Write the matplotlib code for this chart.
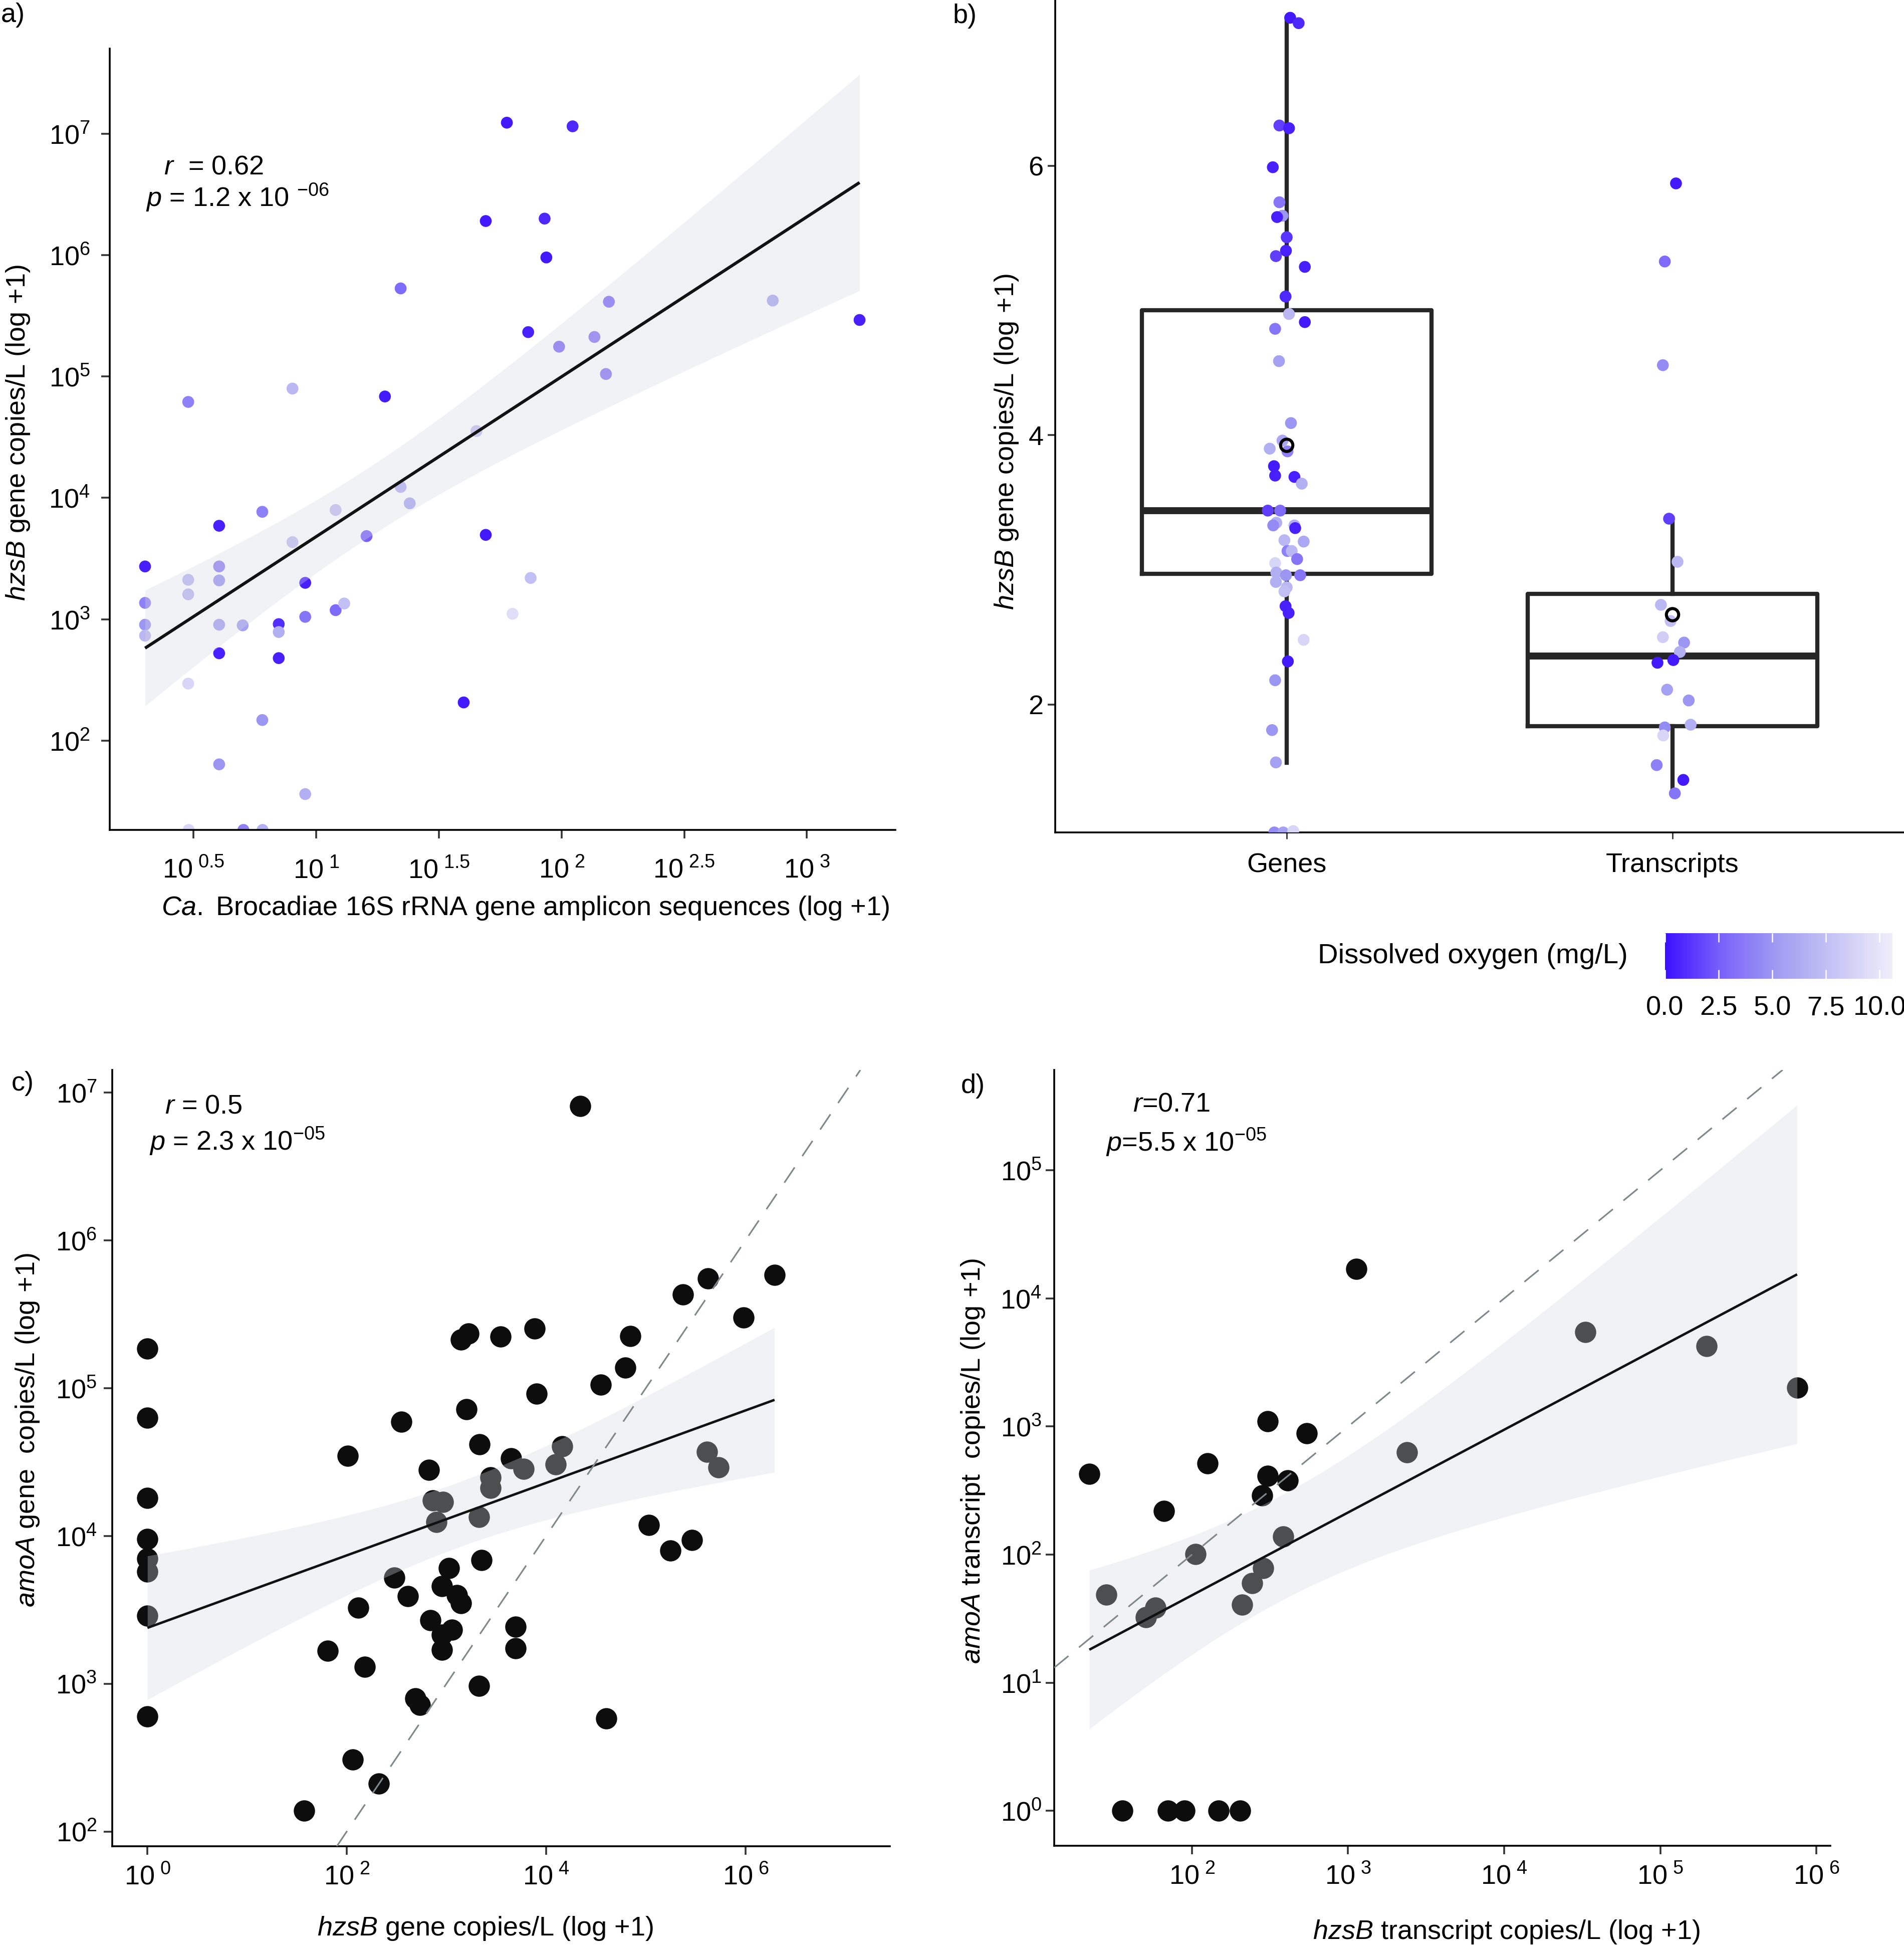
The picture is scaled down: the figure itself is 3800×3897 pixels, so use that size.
import numpy as np
import matplotlib
matplotlib.use('Agg')
import matplotlib.pyplot as plt
from matplotlib.colors import LinearSegmentedColormap, Normalize
from matplotlib.cm import ScalarMappable
from matplotlib.ticker import NullLocator

plt.rcParams['font.family'] = ['Liberation Sans', 'DejaVu Sans']
plt.rcParams['mathtext.fontset'] = 'custom'
plt.rcParams['mathtext.rm'] = 'Liberation Sans'
plt.rcParams['mathtext.it'] = 'Liberation Sans:italic'
plt.rcParams['mathtext.bf'] = 'Liberation Sans:bold'
plt.rcParams['mathtext.sf'] = 'Liberation Sans'

# ------------------------------------------------------------------ data
# Panel a: log10(Ca. Brocadiae amplicon seqs + 1), log10(hzsB gene copies/L + 1), dissolved oxygen (mg/L)
a_log_brocadiae = [0.302, 0.302, 0.302, 0.302, 0.478, 0.478, 0.478, 0.478,
                   0.604, 0.604, 0.604, 0.604, 0.604, 0.604, 0.700,
                   0.780, 0.780, 0.847, 0.847, 0.847, 0.903,
                   0.903, 0.955, 0.955, 0.955, 1.079, 1.079, 1.114, 1.205,
                   1.280, 1.344, 1.344, 1.381, 1.601, 1.653, 1.691, 1.691,
                   1.777, 1.800, 1.864, 1.874, 1.931, 1.938, 1.990, 2.045,
                   2.134, 2.181, 2.193, 2.861, 3.215]
a_log_hzsB = [3.435, 3.135, 2.955, 2.865, 4.790, 3.325, 3.205, 2.470,
              3.770, 3.435, 3.320, 2.955, 2.720, 1.805, 2.950,
              3.885, 2.170, 2.960, 2.895, 2.680, 4.900,
              3.635, 3.300, 3.020, 1.560, 3.900, 3.075, 3.130, 3.685,
              4.835, 5.725, 4.090, 3.955, 2.315, 4.550, 6.280, 3.695,
              7.090, 3.045, 5.365, 3.340, 6.300, 5.980, 5.245, 7.060,
              5.325, 5.020, 5.615, 5.625, 5.465]
a_oxygen = [0.5, 4.0, 5.0, 7.0, 4.0, 7.0, 7.0, 9.0,
            0.5, 4.0, 5.0, 5.5, 0.5, 5.0, 5.5,
            4.0, 5.0, 1.0, 6.5, 0.5, 7.0,
            7.5, 0.5, 3.5, 6.5, 7.5, 3.0, 7.5, 2.5,
            0.3, 3.0, 6.5, 6.0, 0.3, 7.5, 0.3, 0.3,
            0.3, 9.5, 0.5, 7.5, 0.8, 0.3, 3.0, 0.8,
            3.5, 3.5, 3.0, 6.0, 0.5]
# samples sitting on the lower edge of panel a (shown, not part of the fit)
a_floor_log_brocadiae = [0.480, 0.703, 0.781]
a_floor_log_hzsB = [1.265, 1.265, 1.265]
a_floor_oxygen = [9.0, 4.0, 6.5]

# Panel b: log10(hzsB copies/L + 1) for genes and transcripts, jitter offsets, dissolved oxygen
b_categories = ['Genes', 'Transcripts']
b_genes = [7.10, 7.06, 6.30, 6.28, 5.99, 5.73, 5.63, 5.62, 5.47, 5.37, 5.33, 5.25,
           5.03, 4.90, 4.84, 4.79, 4.55, 4.09, 3.96, 3.90, 3.88, 3.77, 3.70, 3.69,
           3.64, 3.44, 3.44, 3.35, 3.33, 3.33, 3.31, 3.22, 3.21, 3.14, 3.14, 3.08,
           3.05, 2.98, 2.96, 2.96, 2.91, 2.87, 2.84, 2.73, 2.68, 2.48, 2.32, 2.18,
           1.81, 1.57, 1.05, 1.05, 1.06]
b_genes_jitter = [0.009, 0.031, -0.019, 0.006, -0.036, -0.019, -0.011, -0.025, 0.000, -0.002,
                  -0.028, 0.047, -0.003, 0.006, 0.047, -0.030, -0.020, 0.011, -0.011, -0.044,
                  0.002, -0.033, -0.030, 0.020, 0.039, -0.049, -0.017, -0.027, -0.035, 0.020,
                  0.022, -0.006, 0.044, 0.002, 0.013, 0.027, -0.030, -0.027, -0.002, 0.035,
                  -0.028, 0.000, -0.006, -0.003, 0.005, 0.044, 0.003, -0.030, -0.038, -0.028,
                  -0.032, -0.009, 0.017]
b_genes_oxygen = [0.3, 0.8, 1.5, 0.5, 0.5, 3.5, 5.0, 0.5, 1.2, 0.5, 1.5, 0.5,
                  0.8, 7.0, 0.3, 3.5, 5.5, 5.0, 6.0, 6.5, 4.0, 0.3, 0.5, 0.5,
                  6.5, 1.5, 3.0, 6.5, 4.5, 6.5, 0.5, 7.0, 6.0, 4.0, 7.0, 3.5,
                  9.0, 6.5, 5.0, 3.5, 6.5, 7.0, 7.5, 0.5, 0.5, 9.0, 0.3, 5.0,
                  5.0, 5.5, 4.5, 5.5, 9.0]
b_transcripts = [5.87, 5.29, 4.52, 3.38, 3.06, 2.74, 2.62, 2.50, 2.46, 2.39,
                 2.31, 2.33, 2.11, 2.03, 1.83, 1.85, 1.77, 1.55, 1.44, 1.34]
b_transcripts_jitter = [0.009, -0.020, -0.025, -0.009, 0.013, -0.030, -0.005, -0.025, 0.030, 0.019,
                        -0.039, 0.002, -0.014, 0.042, -0.020, 0.047, -0.024, -0.041, 0.028, 0.006]
b_transcripts_oxygen = [0.3, 3.0, 4.5, 1.5, 7.0, 7.0, 7.5, 8.5, 5.0, 6.5,
                        0.3, 0.3, 5.5, 5.0, 4.5, 6.5, 9.0, 4.0, 0.3, 3.5]
# box statistics (Genes, Transcripts)
box_whislo = [1.566, 1.336]
box_q1 = [2.969, 1.840]
box_med = [3.438, 2.360]
box_q3 = [4.930, 2.820]
box_whishi = [7.096, 3.384]
box_mean = [3.925, 2.667]

# Panel c: log10(hzsB gene copies/L + 1), log10(amoA gene copies/L + 1)
c_log_hzsB = [0, 0, 0, 0, 0, 0, 0, 0,
              1.571, 1.809, 2.010, 2.113, 2.180, 2.058, 2.320, 2.479, 2.546, 2.613,
              2.686, 2.734, 2.826, 2.838, 2.862, 2.966, 2.899, 2.954, 2.954, 2.954,
              3.027, 3.057, 3.106, 3.143, 3.143, 3.222, 3.203, 3.331, 3.325, 3.350,
              3.325, 3.441, 3.441, 3.544, 3.648, 3.691, 3.691, 3.776, 3.886, 3.904,
              4.093, 4.160, 4.342, 4.549, 4.604, 4.793, 4.842, 5.030, 5.244, 5.372,
              5.463, 5.621, 5.615, 5.731, 5.981, 6.291]
c_log_amoA = [5.267, 4.800, 4.256, 3.977, 3.845, 3.757, 3.458, 2.779,
              2.140, 3.222, 4.540, 3.514, 3.114, 2.487, 2.323, 3.717, 4.772, 3.593,
              2.899, 2.855, 4.448, 3.430, 4.240, 4.228, 4.093, 3.661, 3.330, 3.230,
              3.781, 3.366, 3.597, 3.545, 5.327, 5.367, 4.855, 4.620, 4.129, 3.837,
              2.986, 4.396, 4.324, 5.347, 4.524, 3.386, 3.238, 4.452, 5.403, 4.963,
              4.484, 4.604, 6.908, 5.023, 2.763, 5.139, 5.351, 4.073, 3.901, 5.634,
              3.973, 5.742, 4.568, 4.464, 5.478, 5.766]

# Panel d: log10(hzsB transcript copies/L + 1), log10(amoA transcript copies/L + 1)
d_log_hzsB = [1.343, 1.452, 1.553, 1.705, 1.767, 1.821, 1.845, 1.953, 2.023, 2.101,
              2.171, 2.307, 2.323, 2.385, 2.451, 2.455, 2.486, 2.486, 2.583, 2.614,
              2.735, 3.053, 3.376, 4.519, 5.296, 5.876]
d_log_amoA = [2.631, 1.687, 0.000, 1.512, 1.585, 2.341, 0.000, 0.000, 2.005, 2.714,
              0.000, 0.000, 1.608, 1.779, 2.461, 1.894, 3.041, 2.613, 2.143, 2.581,
              2.949, 4.230, 2.797, 3.737, 3.627, 3.304]

do_ticks = [0, 2.5, 5, 7.5, 10]
do_tick_labels = ['0.0', '2.5', '5.0', '7.5', '10.0']

# ------------------------------------------------------------------ helpers
W, H, DPI = 3800, 3897, 100
fig = plt.figure(figsize=(W / DPI, H / DPI), dpi=DPI)

FS = 39
TICK_C = '#333333'
BAND_C = '#D6D9E0'
BAND_A = 0.32
S_SMALL = 290
S_BIG = 936

do_cmap = LinearSegmentedColormap.from_list(
    'do', [(0.0, '#3C10FF'), (0.25, '#7A63FA'), (0.5, '#A19DF2'),
           (0.75, '#C7C5F4'), (1.0, '#F0EEFB')])
do_norm = Normalize(vmin=0, vmax=10.6)


def rect(l, t, r, b):
    return [l / W, 1 - b / H, (r - l) / W, (b - t) / H]


def fx(x):
    return x / W


def fy(y):
    return 1 - y / H


def style(ax, pad_x, pad_y):
    for s in ['top', 'right']:
        ax.spines[s].set_visible(False)
    for s in ['left', 'bottom']:
        ax.spines[s].set_linewidth(2.6)
        ax.spines[s].set_color('black')
    ax.tick_params(which='major', length=12, width=2.6, color=TICK_C,
                   labelsize=FS, labelcolor='black')
    ax.tick_params(axis='x', pad=pad_x)
    ax.tick_params(axis='y', pad=pad_y)
    ax.tick_params(which='minor', length=0)


def tq(df):
    z = 1.959964
    return z + (z ** 3 + z) / (4 * df) + (5 * z ** 5 + 16 * z ** 3 + 3 * z) / (96 * df ** 2)


def fit_band(x, y, n=150):
    x = np.asarray(x, float)
    y = np.asarray(y, float)
    nobs = len(x)
    b, a = np.polyfit(x, y, 1)
    xs = np.linspace(x.min(), x.max(), n)
    yhat = a + b * xs
    resid = y - (a + b * x)
    s = np.sqrt(np.sum(resid ** 2) / (nobs - 2))
    sxx = np.sum((x - x.mean()) ** 2)
    se = s * np.sqrt(1.0 / nobs + (xs - x.mean()) ** 2 / sxx)
    t = tq(nobs - 2)
    return xs, yhat, yhat - t * se, yhat + t * se


def set_label(ax, axis, text, x, y):
    if axis == 'x':
        ax.set_xlabel(text, fontsize=FS)
        ax.xaxis.set_label_coords(fx(x), fy(y), transform=fig.transFigure)
        ax.xaxis.label.set_va('center')
        ax.xaxis.label.set_ha('center')
    else:
        ax.set_ylabel(text, fontsize=FS)
        ax.yaxis.set_label_coords(fx(x), fy(y), transform=fig.transFigure)
        ax.yaxis.label.set_va('center')
        ax.yaxis.label.set_ha('center')


def draw_fit(ax, xl, yl, lw):
    xs, yh, lo, hi = fit_band(xl, yl)
    ax.fill_between(10 ** xs, 10 ** lo, 10 ** hi, color=BAND_C, alpha=BAND_A,
                    linewidth=0, zorder=3)
    ax.plot(10 ** xs, 10 ** yh, color='#111111', lw=lw, zorder=4,
            solid_capstyle='butt')


# ------------------------------------------------------------------ panel a
axa = fig.add_axes(rect(219, 97, 1787, 1656))
axa.set_xscale('log')
axa.set_yscale('log')
axa.scatter(10 ** np.array(a_log_brocadiae), 10 ** np.array(a_log_hzsB),
            c=a_oxygen, cmap=do_cmap, norm=do_norm, s=S_SMALL, linewidths=0, zorder=2)
axa.scatter(10 ** np.array(a_floor_log_brocadiae), 10 ** np.array(a_floor_log_hzsB),
            c=a_floor_oxygen, cmap=do_cmap, norm=do_norm, s=S_SMALL, linewidths=0, zorder=2)
draw_fit(axa, a_log_brocadiae, a_log_hzsB, 4.4)
axa.set_xlim(10 ** 0.158, 10 ** 3.361)
axa.set_ylim(10 ** 1.265, 10 ** 7.70)
xt = [0.5, 1, 1.5, 2, 2.5, 3]
axa.set_xticks([10 ** v for v in xt])
axa.set_xticklabels([r'$10^{\ %s}$' % ('%g' % v) for v in xt])
yt = [2, 3, 4, 5, 6, 7]
axa.set_yticks([10.0 ** v for v in yt])
axa.set_yticklabels([r'$10^{%d}$' % v for v in yt])
axa.xaxis.set_minor_locator(NullLocator())
axa.yaxis.set_minor_locator(NullLocator())
style(axa, 28, 16)
set_label(axa, 'x', r'$\mathit{Ca.}$Brocadiae 16S rRNA gene amplicon sequences (log +1)'.replace('$Brocadiae', '$ Brocadiae'), 1049, 1812)
set_label(axa, 'y', r'$\mathit{hzsB}$ gene copies/L (log +1)', 36, 863)
fig.text(fx(327), fy(348), r'$\mathit{r}$  = 0.62', fontsize=FS, ha='left', va='baseline')
fig.text(fx(291), fy(412), r'$\mathit{p}$ = 1.2 x 10 $^{-06}$', fontsize=FS, ha='left', va='baseline')

# ------------------------------------------------------------------ panel b
axb = fig.add_axes(rect(2106, 0, 3800, 1661))
stats = []
for i, cat in enumerate(b_categories):
    stats.append(dict(med=box_med[i], q1=box_q1[i], q3=box_q3[i],
                      whislo=box_whislo[i], whishi=box_whishi[i], fliers=[], label=cat))
axb.bxp(stats, positions=[1, 2], widths=0.75, showfliers=False, showcaps=False,
        boxprops=dict(color='#262626', linewidth=6),
        whiskerprops=dict(color='#262626', linewidth=6),
        medianprops=dict(color='#262626', linewidth=10, solid_capstyle='butt'),
        manage_ticks=False)
axb.scatter(1 + np.array(b_genes_jitter), b_genes, c=b_genes_oxygen, cmap=do_cmap,
            norm=do_norm, s=S_SMALL, linewidths=0, zorder=3)
axb.scatter(2 + np.array(b_transcripts_jitter), b_transcripts, c=b_transcripts_oxygen,
            cmap=do_cmap, norm=do_norm, s=S_SMALL, linewidths=0, zorder=3)
axb.scatter([1, 2], box_mean, s=310, facecolors='none', edgecolors='black',
            linewidths=4.4, zorder=5)
axb.set_xlim(0.4, 2.6)
axb.set_ylim(1.05, 7.232)
axb.set_xticks([1, 2])
axb.set_xticklabels(b_categories)
axb.set_yticks([2, 4, 6])
axb.set_yticklabels(['2', '4', '6'])
style(axb, 20, 6)
axb.tick_params(axis='x', length=9, width=2)
axb.tick_params(axis='y', length=11)
set_label(axb, 'y', r'$\mathit{hzsB}$ gene copies/L (log +1)', 2009, 881)

# colour legend
cax = fig.add_axes(rect(3323, 1862, 3777, 1953))
cb = fig.colorbar(ScalarMappable(norm=do_norm, cmap=do_cmap), cax=cax,
                  orientation='horizontal', ticks=do_ticks)
cb.outline.set_visible(False)
cax.xaxis.set_ticks_position('both')
cax.set_xticklabels(do_tick_labels)
cax.tick_params(axis='x', direction='in', color='white', length=13, width=1.8,
                labelsize=FS, pad=24, top=True, bottom=True)
fig.text(fx(2630), fy(1908), 'Dissolved oxygen (mg/L)', fontsize=FS + 1.5,
         ha='left', va='center')

# ------------------------------------------------------------------ panel c
axc = fig.add_axes(rect(224, 2135, 1776, 3684))
axc.set_xscale('log')
axc.set_yscale('log')
axc.scatter(10 ** np.array(c_log_hzsB, float), 10 ** np.array(c_log_amoA),
            color='#0d0d0d', s=S_BIG, linewidths=0, zorder=2)
draw_fit(axc, c_log_hzsB, c_log_amoA, 3.5)
axc.axline((1, 1), (10, 10), color='#7f898b', lw=2.3, ls=(0, (11.5, 8.5)), zorder=5)
axc.set_xlim(10 ** -0.353, 10 ** 7.448)
axc.set_ylim(10 ** 1.90, 10 ** 7.152)
xt = [0, 2, 4, 6]
axc.set_xticks([10.0 ** v for v in xt])
axc.set_xticklabels([r'$10^{\ %d}$' % v for v in xt])
yt = [2, 3, 4, 5, 6, 7]
axc.set_yticks([10.0 ** v for v in yt])
axc.set_yticklabels([r'$10^{%d}$' % v for v in yt])
axc.xaxis.set_minor_locator(NullLocator())
axc.yaxis.set_minor_locator(NullLocator())
style(axc, 14, 10)
set_label(axc, 'x', r'$\mathit{hzsB}$ gene copies/L (log +1)', 969, 3848)
set_label(axc, 'y', r'$\mathit{amoA}$ gene  copies/L (log +1)', 55, 2853)
fig.text(fx(329), fy(2222), r'$\mathit{r}$ = 0.5', fontsize=FS, ha='left', va='baseline')
fig.text(fx(298), fy(2295), r'$\mathit{p}$ = 2.3 x 10$^{-05}$', fontsize=FS, ha='left', va='baseline')

# ------------------------------------------------------------------ panel d
axd = fig.add_axes(rect(2104, 2135, 3653, 3683))
axd.set_xscale('log')
axd.set_yscale('log')
axd.scatter(10 ** np.array(d_log_hzsB), 10 ** np.array(d_log_amoA),
            color='#0d0d0d', s=S_BIG, linewidths=0, zorder=2)
draw_fit(axd, d_log_hzsB, d_log_amoA, 3.5)
axd.axline((1, 1), (10, 10), color='#7f898b', lw=2.3, ls=(0, (11.5, 8.5)), zorder=5)
axd.set_xlim(10 ** 1.118, 10 ** 6.089)
axd.set_ylim(10 ** -0.272, 10 ** 5.783)
xt = [2, 3, 4, 5, 6]
axd.set_xticks([10.0 ** v for v in xt])
axd.set_xticklabels([r'$10^{\ %d}$' % v for v in xt])
yt = [0, 1, 2, 3, 4, 5]
axd.set_yticks([10.0 ** v for v in yt])
axd.set_yticklabels([r'$10^{%d}$' % v for v in yt])
axd.xaxis.set_minor_locator(NullLocator())
axd.yaxis.set_minor_locator(NullLocator())
style(axd, 14, 6)
set_label(axd, 'x', r'$\mathit{hzsB}$ transcript copies/L (log +1)', 3007, 3855)
set_label(axd, 'y', r'$\mathit{amoA}$ transcript  copies/L (log +1)', 1942, 2915)
fig.text(fx(2261), fy(2217), r'$\mathit{r}$=0.71', fontsize=FS, ha='left', va='baseline')
fig.text(fx(2207), fy(2297), r'$\mathit{p}$=5.5 x 10$^{-05}$', fontsize=FS, ha='left', va='baseline')

# ------------------------------------------------------------------ panel tags
fig.text(fx(2), fy(30), 'a)', fontsize=FS, ha='left', va='center')
fig.text(fx(1902), fy(32), 'b)', fontsize=FS, ha='left', va='center')
fig.text(fx(23), fy(2162), 'c)', fontsize=FS, ha='left', va='center')
fig.text(fx(1918), fy(2167), 'd)', fontsize=FS, ha='left', va='center')

fig.savefig('out.png', dpi=DPI)
